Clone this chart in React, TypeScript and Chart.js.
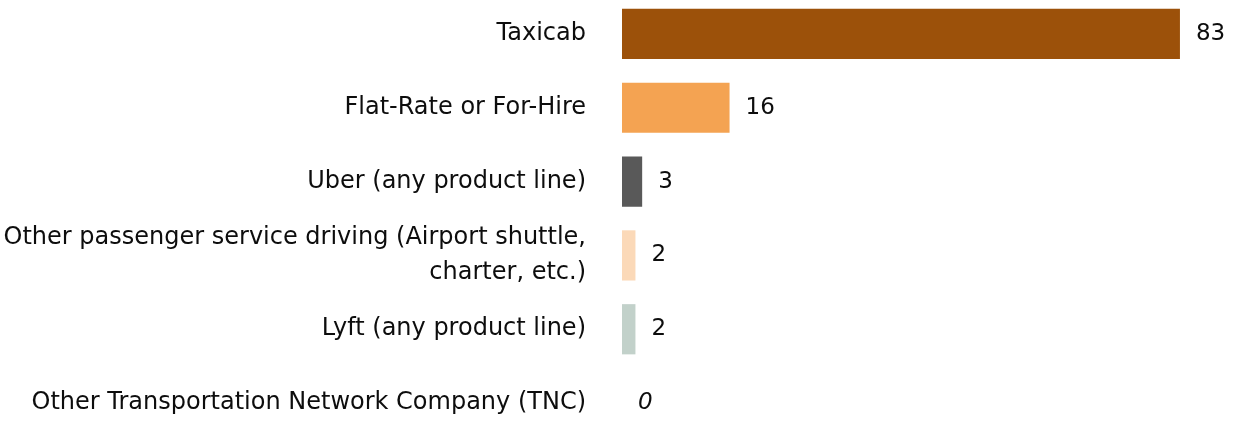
import React, { useEffect, useRef } from "react";
import { Chart, registerables } from "chart.js";

Chart.register(...registerables);

const categories: (string | string[])[] = [
  "Taxicab",
  "Flat-Rate or For-Hire",
  "Uber (any product line)",
  ["Other passenger service driving (Airport shuttle,", "charter, etc.)"],
  "Lyft (any product line)",
  "Other Transportation Network Company (TNC)",
];
const values: number[] = [83, 16, 3, 2, 2, 0];
const barColors: string[] = ["#9C510A", "#F4A352", "#595959", "#FBD9B8", "#C2D1CA", "#C2D1CA"];

const FONT = "'DejaVu Sans', sans-serif";

const valueLabels = {
  id: "valueLabels",
  afterDatasetsDraw(chart: any) {
    const { ctx } = chart;
    const meta = chart.getDatasetMeta(0);
    ctx.save();
    ctx.fillStyle = "#0d0d0d";
    ctx.textAlign = "left";
    ctx.textBaseline = "middle";
    meta.data.forEach((bar: any, i: number) => {
      const v = values[i];
      ctx.font = (v === 0 ? "italic " : "") + "23px " + FONT;
      ctx.fillText(String(v), bar.x + 16, bar.y);
    });
    ctx.restore();
  },
};

export default function App() {
  const ref = useRef<HTMLCanvasElement>(null);
  useEffect(() => {
    if (!ref.current) return;
    const chart = new Chart(ref.current, {
      type: "bar",
      data: {
        labels: categories,
        datasets: [
          {
            data: values,
            backgroundColor: barColors,
            categoryPercentage: 1,
            barPercentage: 0.68,
          },
        ],
      },
      options: {
        indexAxis: "y",
        animation: false,
        responsive: false,
        maintainAspectRatio: false,
        layout: { padding: { left: 0, right: 10, top: 0, bottom: 0 } },
        plugins: { legend: { display: false }, tooltip: { enabled: false } },
        scales: {
          x: {
            min: 0,
            max: 90,
            display: false,
            grid: { display: false },
          },
          y: {
            grid: { display: false, drawTicks: true, tickLength: 36 },
            border: { display: false },
            ticks: {
              padding: 0,
              color: "#0d0d0d",
              font: { family: FONT, size: 24, lineHeight: 1.47 },
            },
            afterFit(scale: any) {
              scale.width = 622;
              scale.paddingTop = 0;
              scale.paddingBottom = 0;
            },
          },
        },
      },
      plugins: [valueLabels],
    });
    return () => chart.destroy();
  }, []);
  return (
    <div style={{ position: "fixed", left: 0, top: -3, width: 1237, height: 443 }}>
      <canvas ref={ref} width={1237} height={443} style={{ width: 1237, height: 443 }} />
    </div>
  );
}
